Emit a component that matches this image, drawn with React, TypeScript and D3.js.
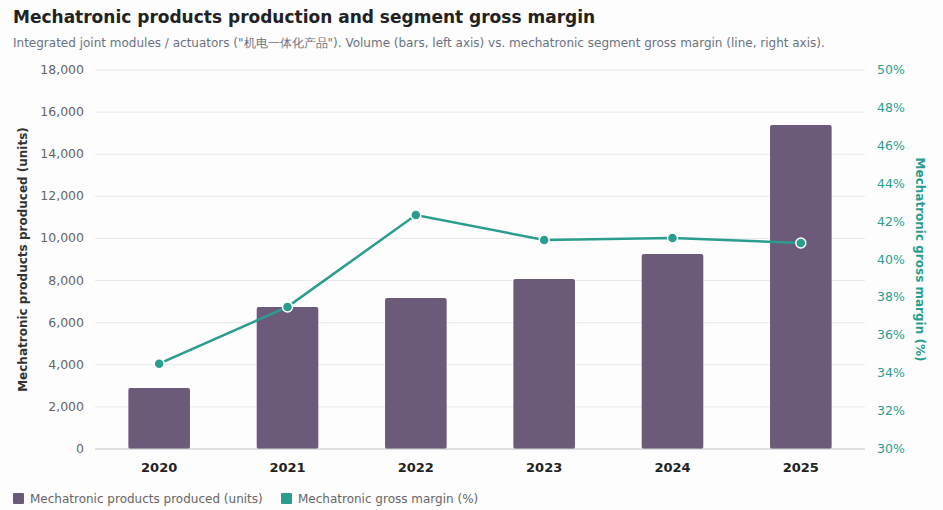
import React from "react";
import * as d3 from "d3";

const years = ["2020", "2021", "2022", "2023", "2024", "2025"];
const units = [2900, 6750, 7170, 8070, 9260, 15390];
const margin = [34.5, 37.5, 42.35, 41.03, 41.13, 40.87];
const leftTicks = [0, 2000, 4000, 6000, 8000, 10000, 12000, 14000, 16000, 18000];
const rightTicks = [30, 32, 34, 36, 38, 40, 42, 44, 46, 48, 50];

const W = 943, H = 510;
const L = 95, R = 865, T = 70, B = 449;
const barColor = "#6c5a7b";
const lineColor = "#2a9d8f";
const font = "DejaVu Sans, sans-serif";

export default function App() {
  const x = d3.scaleBand().domain(years).range([L, R]).paddingInner(0.52).paddingOuter(0.26);
  const y = d3.scaleLinear().domain([0, 18000]).range([B, T]);
  const y2 = d3.scaleLinear().domain([30, 50]).range([B, T]);
  const cx = (d: string) => x(d)! + x.bandwidth() / 2;
  const line = d3.line<number>().x((_, i) => cx(years[i])).y((d) => y2(d))(margin)!;
  const fmt = d3.format(",");

  return (
    <svg width={W} height={H} style={{ position: "absolute", left: 0, top: 0, background: "#fdfdfd", fontFamily: font }}>
      <rect width={W} height={H} fill="#fdfdfd" />
      <text x={13} y={23} fontSize={17} fontWeight="bold" fill="#222">Mechatronic products production and segment gross margin</text>
      <text x={13} y={47} fontSize={12} fill="#6b7280">Integrated joint modules / actuators ("机电一体化产品"). Volume (bars, left axis) vs. mechatronic segment gross margin (line, right axis).</text>
      {leftTicks.map((t) => (
        <g key={t}>
          <line x1={L} x2={R} y1={y(t)} y2={y(t)} stroke="#e8e8e8" />
          <text x={L - 11} y={y(t) + 4} fontSize={12.5} fill="#666" textAnchor="end">{fmt(t)}</text>
        </g>
      ))}
      {rightTicks.map((t) => (
        <text key={t} x={R + 12} y={y2(t) + 4} fontSize={12.5} fill={lineColor}>{t}%</text>
      ))}
      <text transform={`translate(27,${(T + B) / 2}) rotate(-90)`} fontSize={12} fontWeight="bold" fill="#333" textAnchor="middle">Mechatronic products produced (units)</text>
      <text transform={`translate(916,${(T + B) / 2}) rotate(90)`} fontSize={12} fontWeight="bold" fill={lineColor} textAnchor="middle">Mechatronic gross margin (%)</text>
      {years.map((yr, i) => (
        <g key={yr}>
          <rect x={x(yr)} y={y(units[i])} width={x.bandwidth()} height={B - y(units[i])} fill={barColor} rx={2} />
          <text x={cx(yr)} y={B + 23} fontSize={13} fontWeight="bold" fill="#222" textAnchor="middle">{yr}</text>
        </g>
      ))}
      <line x1={L} x2={R} y1={B} y2={B} stroke="#ccc" />
      <path d={line} fill="none" stroke={lineColor} strokeWidth={2.5} />
      {margin.map((m, i) => (
        <circle key={i} cx={cx(years[i])} cy={y2(m)} r={5} fill={lineColor} stroke="#fff" strokeWidth={1.5} />
      ))}
      <rect x={13} y={493} width={11} height={11} fill={barColor} rx={1} />
      <text x={30} y={503} fontSize={12} fill="#666">Mechatronic products produced (units)</text>
      <rect x={281} y={493} width={11} height={11} fill={lineColor} rx={1} />
      <text x={298} y={503} fontSize={12} fill="#666">Mechatronic gross margin (%)</text>
    </svg>
  );
}
